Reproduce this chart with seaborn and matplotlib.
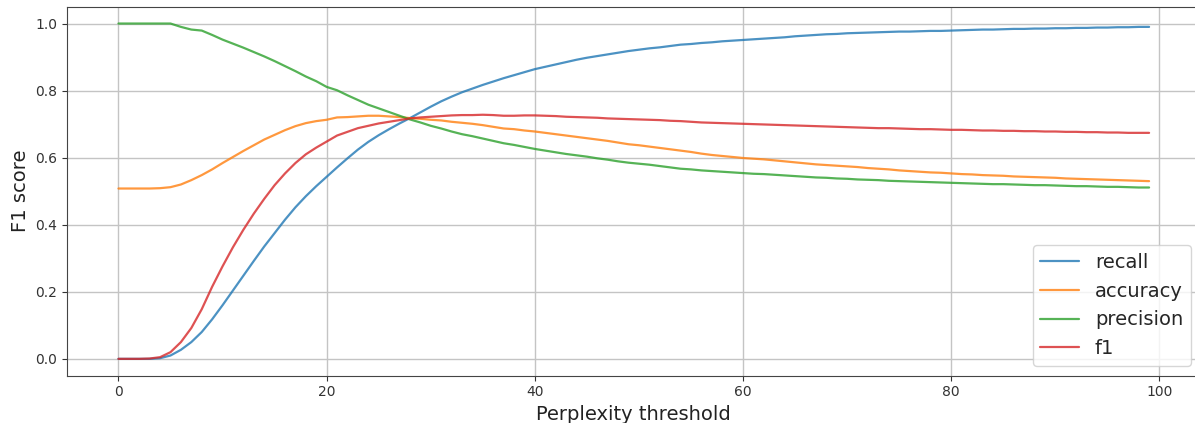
import numpy as np
import pandas as pd
import seaborn as sns
import matplotlib
import matplotlib.pyplot as plt

sns.set_style('ticks')
matplotlib.rcParams['font.family'] = ['DejaVu Sans']

thresholds = list(range(100))

recall = [
    0.0, 0.0, 0.0, 0.0, 0.002, 0.01, 0.027, 0.05, 0.08, 0.118,
    0.16, 0.204, 0.248, 0.292, 0.335, 0.375, 0.415, 0.452, 0.485, 0.515,
    0.543, 0.571, 0.598, 0.624, 0.647, 0.667, 0.685, 0.702, 0.718, 0.735,
    0.752, 0.768, 0.782, 0.795, 0.806, 0.817, 0.827, 0.837, 0.846, 0.855,
    0.864, 0.871, 0.878, 0.885, 0.892, 0.898, 0.903, 0.908, 0.913, 0.918,
    0.922, 0.926, 0.929, 0.933, 0.937, 0.939, 0.942, 0.944, 0.947, 0.949,
    0.951, 0.953, 0.955, 0.957, 0.959, 0.962, 0.964, 0.966, 0.968, 0.969,
    0.971, 0.972, 0.973, 0.974, 0.975, 0.976, 0.976, 0.977, 0.978, 0.978,
    0.979, 0.980, 0.981, 0.982, 0.982, 0.983, 0.984, 0.984, 0.985, 0.985,
    0.986, 0.986, 0.987, 0.987, 0.988, 0.988, 0.989, 0.989, 0.990, 0.990,
]

accuracy = [
    0.508, 0.508, 0.508, 0.508, 0.509, 0.512, 0.52, 0.533, 0.548, 0.565,
    0.584, 0.602, 0.62, 0.637, 0.654, 0.668, 0.682, 0.694, 0.703, 0.709,
    0.713, 0.72, 0.721, 0.723, 0.725, 0.725, 0.723, 0.721, 0.718, 0.716,
    0.713, 0.711, 0.707, 0.704, 0.701, 0.697, 0.692, 0.687, 0.685, 0.681,
    0.678, 0.674, 0.670, 0.666, 0.662, 0.658, 0.654, 0.650, 0.645, 0.640,
    0.637, 0.633, 0.629, 0.625, 0.621, 0.617, 0.612, 0.608, 0.605, 0.602,
    0.599, 0.597, 0.595, 0.592, 0.589, 0.586, 0.583, 0.580, 0.578, 0.576,
    0.574, 0.572, 0.569, 0.567, 0.565, 0.562, 0.560, 0.558, 0.556, 0.555,
    0.553, 0.551, 0.550, 0.548, 0.547, 0.546, 0.544, 0.543, 0.542, 0.541,
    0.540, 0.538, 0.537, 0.536, 0.535, 0.534, 0.533, 0.532, 0.531, 0.530,
]

precision = [
    1.0, 1.0, 1.0, 1.0, 1.0, 1.0, 0.99, 0.982, 0.979, 0.966,
    0.952, 0.94, 0.928, 0.915, 0.902, 0.888, 0.873, 0.858, 0.842, 0.828,
    0.811, 0.801, 0.786, 0.772, 0.758, 0.747, 0.736, 0.725, 0.714, 0.705,
    0.695, 0.687, 0.678, 0.670, 0.664, 0.657, 0.650, 0.643, 0.638, 0.632,
    0.626, 0.621, 0.616, 0.611, 0.607, 0.603, 0.598, 0.594, 0.589, 0.585,
    0.582, 0.579, 0.575, 0.571, 0.567, 0.565, 0.562, 0.560, 0.558, 0.556,
    0.554, 0.552, 0.551, 0.549, 0.547, 0.545, 0.543, 0.541, 0.540, 0.538,
    0.537, 0.535, 0.534, 0.533, 0.531, 0.530, 0.529, 0.528, 0.527, 0.526,
    0.525, 0.524, 0.523, 0.522, 0.521, 0.521, 0.520, 0.519, 0.518, 0.518,
    0.517, 0.516, 0.515, 0.515, 0.514, 0.513, 0.513, 0.512, 0.511, 0.511,
]

f1 = [
    0.0, 0.0, 0.0, 0.001, 0.005, 0.02, 0.05, 0.092, 0.148, 0.215,
    0.276, 0.333, 0.385, 0.433, 0.477, 0.518, 0.553, 0.584, 0.61, 0.63,
    0.648, 0.666, 0.677, 0.688, 0.695, 0.702, 0.707, 0.712, 0.717, 0.72,
    0.722, 0.724, 0.726, 0.727, 0.727, 0.728, 0.727, 0.725, 0.725, 0.726,
    0.726, 0.725, 0.724, 0.722, 0.721, 0.72, 0.719, 0.717, 0.716, 0.715,
    0.714, 0.713, 0.712, 0.71, 0.709, 0.707, 0.705, 0.704, 0.703, 0.702,
    0.701, 0.700, 0.699, 0.698, 0.697, 0.696, 0.695, 0.694, 0.693, 0.692,
    0.691, 0.690, 0.689, 0.688, 0.688, 0.687, 0.686, 0.685, 0.685, 0.684,
    0.683, 0.683, 0.682, 0.681, 0.681, 0.680, 0.680, 0.679, 0.679, 0.678,
    0.678, 0.677, 0.677, 0.676, 0.676, 0.675, 0.675, 0.674, 0.674, 0.674,
]

metrics = {'recall': recall, 'accuracy': accuracy, 'precision': precision, 'f1': f1}
df = pd.concat([pd.DataFrame({'threshold': thresholds, 'score': v, 'metric': k})
                for k, v in metrics.items()], ignore_index=True)

fig = plt.figure(figsize=(11.95, 4.23), dpi=100)
# the original picture is cropped on the right, so the axes run past the edge
ax = fig.add_axes([0.056, 0.112, 0.9487, 0.872])

sns.lineplot(data=df, x='threshold', y='score', hue='metric',
             palette='tab10', linewidth=1.6, alpha=0.8, ax=ax)

ax.set_xlim(-4.95, 103.95)
ax.set_ylim(-0.05, 1.05)
ax.set_xticks([0, 20, 40, 60, 80, 100])
ax.set_yticks([0.0, 0.2, 0.4, 0.6, 0.8, 1.0])
ax.tick_params(labelsize=10, colors='#333333')
ax.grid(True, color='#c4c4c4', linewidth=1)
ax.set_xlabel('Perplexity threshold', fontsize=14, color='#222222')
ax.set_ylabel('F1 score', fontsize=14, color='#222222')
for s in ax.spines.values():
    s.set_color('#444444')

ax.legend(loc='lower right', fontsize=14, title=None)

plt.savefig('out.png', dpi=100)
plt.close()
